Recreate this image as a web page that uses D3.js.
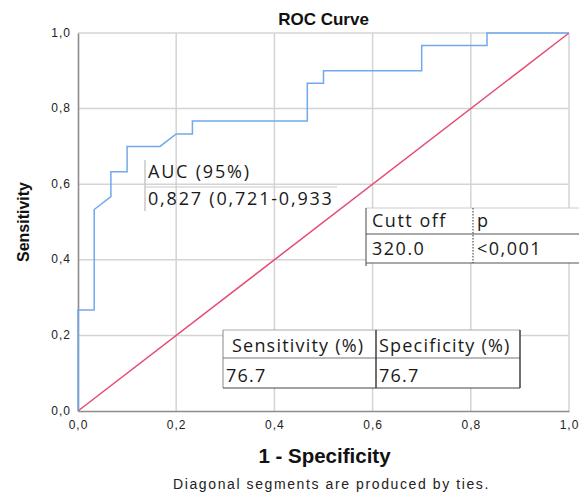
<!DOCTYPE html>
<html>
<head>
<meta charset="utf-8">
<script src="https://cdn.jsdelivr.net/npm/d3@7"></script>
<style>
  body { margin: 0; background: #fff; }
  text { font-family: Arial, "Liberation Sans", sans-serif; }
  .tbl { font-family: "Open Sans", "Noto Sans", sans-serif; fill: #1a1a1a; }
</style>
</head>
<body>
<div id="main"></div>
<script>
var margin = {
  top: 33, right: 10, bottom: 81, left: 78
};
var width = 579 - margin.left - margin.right;
var height = 492 - margin.top - margin.bottom;

// ROC curve points (1 - specificity, sensitivity)
var fpr = [0, 0, 0.033, 0.033, 0.067, 0.067, 0.100, 0.100, 0.167, 0.200, 0.233, 0.233,
           0.467, 0.467, 0.500, 0.500, 0.700, 0.700, 0.833, 0.833, 1.000];
var tpr = [0, 0.267, 0.267, 0.533, 0.567, 0.633, 0.633, 0.700, 0.700, 0.733, 0.733, 0.767,
           0.767, 0.867, 0.867, 0.900, 0.900, 0.967, 0.967, 1.000, 1.000];
var refLine = [0, 1];
var ticks = [0, 0.2, 0.4, 0.6, 0.8, 1.0];

var aucRows = ["AUC (95%)", "0,827 (0,721-0,933"];
var cutHeader = ["Cutt off", "p"];
var cutValues = ["320.0", "<0,001"];
var sensHeader = ["Sensitivity (%)", "Specificity (%)"];
var sensValues = ["76.7", "76.7"];

var fmt = d => d3.format(".1f")(d).replace(".", ",");

var svg = d3.select("#main")
.append("svg")
.attr("width", 579)
.attr("height", 492);

var g = svg.append("g")
.attr("transform", "translate(" + margin.left + "," + margin.top + ")");

var x = d3.scaleLinear().domain([0, 1]).range([0, width]);
var y = d3.scaleLinear().domain([0, 1]).range([height, 0]);

// grid
g.selectAll(".gx")
  .data(ticks.slice(1))
  .enter()
  .append("line")
  .attr("x1", d => x(d)).attr("x2", d => x(d))
  .attr("y1", 0).attr("y2", height)
  .style("stroke", "#d4d4d4")
  .style("stroke-width", 1.5);

g.selectAll(".gy")
  .data(ticks.slice(1))
  .enter()
  .append("line")
  .attr("x1", 0).attr("x2", width)
  .attr("y1", d => y(d)).attr("y2", d => y(d))
  .style("stroke", "#d4d4d4")
  .style("stroke-width", 1.5);

// axes
var xAxis = g.append("g")
  .attr("transform", "translate(0," + height + ")")
  .call(d3.axisBottom(x).tickValues(ticks).tickFormat(fmt).tickSize(0).tickPadding(9));
var yAxis = g.append("g")
  .call(d3.axisLeft(y).tickValues(ticks).tickFormat(fmt).tickSize(0).tickPadding(7));

[xAxis, yAxis].forEach(function(a) {
  a.select(".domain").style("stroke", "#8c8c8c").style("stroke-width", 1.6);
  a.selectAll("text")
    .style("font-family", "Arial, 'Liberation Sans', sans-serif")
    .style("font-size", "12px")
    .style("letter-spacing", "1px")
    .style("fill", "#222");
});
yAxis.selectAll("text").attr("dy", "0.25em");

// reference diagonal
g.append("path")
  .datum(refLine)
  .attr("d", d3.line().x(d => x(d)).y(d => y(d)))
  .style("fill", "none")
  .style("stroke", "#e64b72")
  .style("stroke-width", 1.5);

// ROC curve
g.append("path")
  .datum(d3.range(fpr.length))
  .attr("d", d3.line().x(i => x(fpr[i])).y(i => y(tpr[i])))
  .style("fill", "none")
  .style("stroke", "#72a8ec")
  .style("stroke-width", 1.5);

// titles
svg.append("text")
  .attr("x", margin.left + width / 2).attr("y", 25)
  .style("text-anchor", "middle")
  .style("font-weight", "bold")
  .style("font-size", "17px")
  .style("fill", "#111")
  .text("ROC Curve");

svg.append("text")
  .attr("x", margin.left + width / 2 + 1).attr("y", 463)
  .style("text-anchor", "middle")
  .style("font-weight", "bold")
  .style("font-size", "20.5px")
  .style("fill", "#111")
  .text("1 - Specificity");

svg.append("text")
  .attr("transform", "translate(29," + (margin.top + height / 2) + ") rotate(-90)")
  .style("text-anchor", "middle")
  .style("font-weight", "bold")
  .style("font-size", "16px")
  .style("fill", "#111")
  .text("Sensitivity");

svg.append("text")
  .attr("x", margin.left + width / 2 + 8).attr("y", 489)
  .style("text-anchor", "middle")
  .style("font-size", "14px")
  .style("letter-spacing", "1.6px")
  .style("fill", "#222")
  .text("Diagonal segments are produced by ties.");

// AUC table (transparent)
var auc = svg.append("g");
auc.append("line").attr("x1", 145).attr("x2", 145).attr("y1", 160).attr("y2", 211)
  .style("stroke", "#c8c8c8").style("stroke-width", 1.5);
auc.append("line").attr("x1", 145).attr("x2", 337).attr("y1", 187).attr("y2", 187)
  .style("stroke", "#c8c8c8").style("stroke-width", 1);
auc.selectAll("text")
  .data(aucRows)
  .enter()
  .append("text")
  .classed("tbl", true)
  .attr("x", 148)
  .attr("y", (d, i) => 178 + i * 27)
  .style("font-size", "18px")
  .style("letter-spacing", "1.8px")
  .text(d => d);

// cut off table
var cut = svg.append("g");
cut.append("rect").attr("x", 366).attr("y", 208).attr("width", 220).attr("height", 55)
  .style("fill", "#fff");
cut.append("line").attr("x1", 366).attr("x2", 579).attr("y1", 208).attr("y2", 208)
  .style("stroke", "#ccc");
cut.append("line").attr("x1", 366).attr("x2", 366).attr("y1", 208).attr("y2", 266)
  .style("stroke", "#666").style("stroke-width", 1.2);
cut.append("line").attr("x1", 366).attr("x2", 579).attr("y1", 234).attr("y2", 234)
  .style("stroke", "#555").style("stroke-width", 1.2);
cut.append("line").attr("x1", 366).attr("x2", 579).attr("y1", 263).attr("y2", 263)
  .style("stroke", "#555").style("stroke-width", 1.2);
cut.append("line").attr("x1", 473).attr("x2", 473).attr("y1", 208).attr("y2", 263)
  .style("stroke", "#333").style("stroke-width", 1).style("stroke-dasharray", "1.5,1.5");
[cutHeader, cutValues].forEach(function(row, r) {
  cut.selectAll(null)
    .data(row)
    .enter()
    .append("text")
    .classed("tbl", true)
    .attr("x", (d, i) => i === 0 ? 372 : 477)
    .attr("y", 227 + r * 28)
    .style("font-size", "18px")
    .style("letter-spacing", "1.5px")
    .text(d => d);
});

// sensitivity / specificity table
var sens = svg.append("g");
sens.append("rect").attr("x", 223).attr("y", 330).attr("width", 297).attr("height", 58)
  .style("fill", "#fff");
sens.append("line").attr("x1", 223).attr("x2", 520).attr("y1", 330).attr("y2", 330)
  .style("stroke", "#aaa");
sens.append("line").attr("x1", 223).attr("x2", 223).attr("y1", 330).attr("y2", 388)
  .style("stroke", "#888");
sens.append("line").attr("x1", 223).attr("x2", 520).attr("y1", 358).attr("y2", 358)
  .style("stroke", "#777");
sens.append("line").attr("x1", 223).attr("x2", 520).attr("y1", 388).attr("y2", 388)
  .style("stroke", "#444").style("stroke-width", 1.2);
sens.append("line").attr("x1", 376).attr("x2", 376).attr("y1", 330).attr("y2", 388)
  .style("stroke", "#333").style("stroke-width", 1.4);
sens.append("line").attr("x1", 520).attr("x2", 520).attr("y1", 330).attr("y2", 388)
  .style("stroke", "#333").style("stroke-width", 1.4);
[sensHeader, sensValues].forEach(function(row, r) {
  sens.selectAll(null)
    .data(row)
    .enter()
    .append("text")
    .classed("tbl", true)
    .attr("x", (d, i) => i === 0 ? (r === 0 ? 232 : 226) : 379)
    .attr("y", 352 + r * 30)
    .style("font-size", "18px")
    .style("letter-spacing", "1.2px")
    .text(d => d);
});
</script>
</body>
</html>
